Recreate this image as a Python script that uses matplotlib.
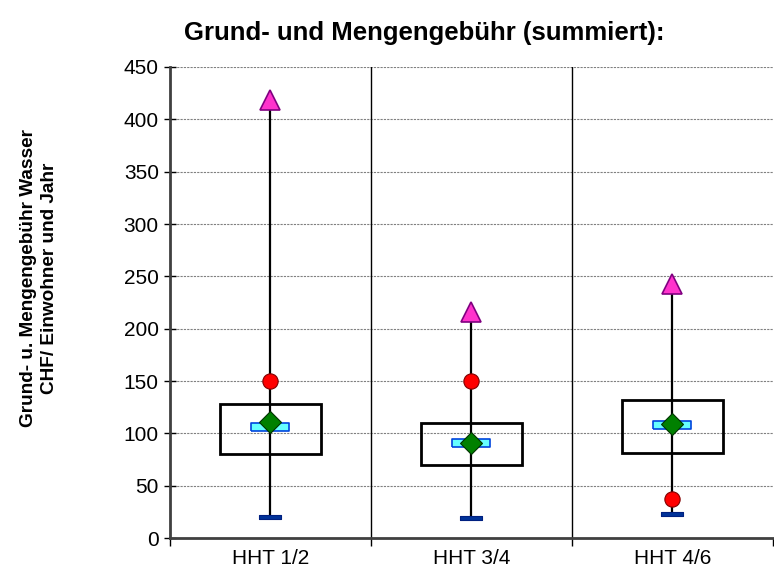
import numpy as np
import matplotlib.pyplot as plt
from matplotlib.patches import Rectangle

plt.rcParams['font.family'] = ['Liberation Sans', 'DejaVu Sans']

# === Data ===
groups = ["HHT 1/2", "HHT 3/4", "HHT 4/6"]
minimum = [20, 19, 23]
q1 = [80, 70, 81]
median = [106, 91, 108]
mean = [111, 91, 109]
q3 = [128, 110, 132]
p90 = [150, 150, 37]
maximum = [418, 216, 243]

fig = plt.figure(figsize=(7.74, 5.75), dpi=100)
ax = fig.add_axes([0.2196, 0.0643, 0.779, 0.8192])

x = np.arange(len(groups))
box_w = 0.5

# whiskers and boxes
ax.vlines(x, minimum, maximum, color='black', lw=1.6, zorder=3)
for xi, lo, hi in zip(x, q1, q3):
    ax.add_patch(Rectangle((xi - box_w / 2, lo), box_w, hi - lo, facecolor='none',
                           edgecolor='black', lw=2, zorder=4))

# markers
bar_wide = [(-4.75, -1), (4.75, -1), (4.75, 1), (-4.75, 1), (-4.75, -1)]
bar_small = [(-4.6, -1), (4.6, -1), (4.6, 1), (-4.6, 1), (-4.6, -1)]
ax.plot(x, minimum, ls='none', marker=bar_small, ms=16.5, mfc='#003399', mec='#002080',
        mew=0.8, zorder=5)
ax.plot(x, median, ls='none', marker=bar_wide, ms=27, mfc='#66FFFF', mec='#0044DD',
        mew=1.2, zorder=5)
ax.plot(x, p90, ls='none', marker='o', ms=11, mfc='#FF0000', mec='#800000', mew=0.8, zorder=6)
ax.plot(x, mean, ls='none', marker='D', ms=11.5, mfc='#008000', mec='#003300', mew=0.8, zorder=6)
ax.plot(x, maximum, ls='none', marker='^', ms=14, mfc='#FF33CC', mec='#800080', mew=1.2, zorder=6)

# axes styling
ax.set_xlim(-0.5, len(groups) - 0.5)
ax.set_ylim(0, 450)
ax.set_yticks(np.arange(0, 451, 50))
ax.set_xticks(x)
ax.set_xticklabels(groups)
ax.set_xticks(np.arange(-0.5, len(groups) - 0.4, 1), minor=True)
ax.tick_params(axis='x', which='major', length=0, labelsize=15, pad=8)
ax.tick_params(axis='x', which='minor', length=6, width=1, direction='out', color='black')
ax.tick_params(axis='y', length=8, width=1, direction='inout', labelsize=15, pad=4)

ax.yaxis.grid(True, ls=(0, (2, 1)), color='#808080', lw=0.8)
ax.set_axisbelow(True)
for xb in np.arange(0.5, len(groups) - 0.5, 1):
    ax.axvline(xb, color='black', lw=1, zorder=1)

for s in ['top', 'right']:
    ax.spines[s].set_visible(False)
for s in ['left', 'bottom']:
    ax.spines[s].set_color('#404040')
    ax.spines[s].set_linewidth(2)

fig.text(0.0504, 0.516, "Grund- u. Mengengebühr Wasser\nCHF/ Einwohner und Jahr",
         rotation=90, ha='center', va='center', fontsize=13.7, fontweight='bold',
         linespacing=1.3)
fig.text(0.548, 0.943, "Grund- und Mengengebühr (summiert):", ha='center', va='center',
         fontsize=18.5, fontweight='bold')

fig.savefig("out.png", dpi=100)
